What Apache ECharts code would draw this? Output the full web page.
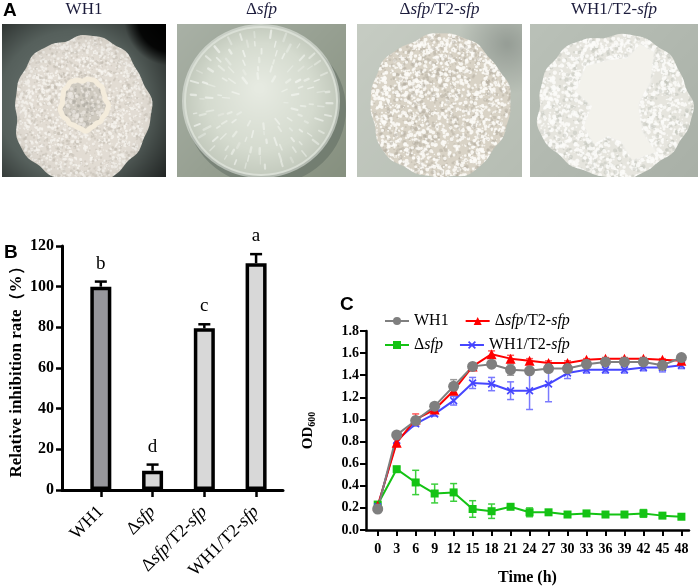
<!DOCTYPE html>
<html>
<head>
<meta charset="utf-8">
<script src="https://cdn.jsdelivr.net/npm/echarts@6/dist/echarts.min.js"></script>
<style>
  html, body { margin: 0; padding: 0; background: #fff; }
  #main { width: 699px; height: 587px; }
</style>
</head>
<body>
<div id="main"></div>
<script>
// ---- panel B data ----
const strains = ['WH1', 'Δsfp', 'Δsfp/T2-sfp', 'WH1/T2-sfp']
const inhibition = [100, 9.5, 79.5, 111.5]
const inhibitionErr = [2.5, 3, 2, 4.5]
const sigLetters = ['b', 'd', 'c', 'a']

// ---- panel C data ----
const hours = [0, 3, 6, 9, 12, 15, 18, 21, 24, 27, 30, 33, 36, 39, 42, 45, 48]
const odWH1 = [0.19, 0.86, 0.99, 1.12, 1.30, 1.48, 1.50, 1.45, 1.44, 1.46, 1.46, 1.50, 1.52, 1.52, 1.52, 1.49, 1.56]
const errWH1 = [0.01, 0.02, 0.03, 0.03, 0.06, 0.02, 0.03, 0.05, 0.03, 0.03, 0.03, 0.03, 0.02, 0.03, 0.03, 0.04, 0.02]
const odSfp = [0.23, 0.55, 0.43, 0.33, 0.34, 0.19, 0.17, 0.21, 0.16, 0.16, 0.14, 0.15, 0.14, 0.14, 0.15, 0.13, 0.12]
const errSfp = [0.02, 0.02, 0.11, 0.085, 0.08, 0.075, 0.065, 0.02, 0.04, 0.02, 0.02, 0.02, 0.02, 0.02, 0.035, 0.02, 0.02]
const odComp = [0.22, 0.79, 1.00, 1.09, 1.26, 1.48, 1.59, 1.55, 1.53, 1.51, 1.51, 1.54, 1.55, 1.55, 1.55, 1.54, 1.53]
const errComp = [0.01, 0.03, 0.05, 0.02, 0.03, 0.02, 0.03, 0.03, 0.02, 0.02, 0.02, 0.01, 0.01, 0.01, 0.01, 0.01, 0.01]
const odOver = [0.21, 0.81, 0.96, 1.05, 1.17, 1.33, 1.32, 1.26, 1.26, 1.32, 1.42, 1.45, 1.45, 1.45, 1.47, 1.47, 1.49]
const errOver = [0.01, 0.02, 0.02, 0.02, 0.04, 0.05, 0.06, 0.08, 0.17, 0.16, 0.05, 0.03, 0.03, 0.03, 0.03, 0.04, 0.03]

const SERIF = '"Liberation Serif", "DejaVu Serif", serif'
const SANS = '"Liberation Sans", Arial, sans-serif'

// rich-text versions of the strain names (italic gene names)
const richName = {
  'WH1': '{n|WH1}',
  'Δsfp': '{n|Δ}{i|sfp}',
  'Δsfp/T2-sfp': '{n|Δ}{i|sfp}{n|/T2-}{i|sfp}',
  'WH1/T2-sfp': '{n|WH1/T2-}{i|sfp}'
}
function richStyle(size, weight, color) {
  return {
    n: { fontFamily: SERIF, fontSize: size, fontWeight: weight, color: color },
    i: { fontFamily: SERIF, fontSize: size, fontWeight: weight, fontStyle: 'italic', color: color }
  }
}
function richGraphic(size, color) {
  return {
    n: { font: size + 'px ' + SERIF, fill: color },
    i: { font: 'italic ' + size + 'px ' + SERIF, fill: color }
  }
}

// ---- panel A: colony photos painted on canvases ----
function rnd(i) {
  const s = Math.sin(i * 12.9898 + 78.233) * 43758.5453
  return s - Math.floor(s)
}
function blob(ctx, cx, cy, rx, ry, wob, ph) {
  ctx.beginPath()
  for (let k = 0; k <= 120; k++) {
    const a = k / 120 * Math.PI * 2
    const r = 1 + wob * (0.5 * Math.sin(5 * a + ph) + 0.3 * Math.sin(9 * a + ph * 2) + 0.2 * Math.sin(17 * a + ph * 3))
    const x = cx + rx * r * Math.cos(a), y = cy + ry * r * Math.sin(a)
    k ? ctx.lineTo(x, y) : ctx.moveTo(x, y)
  }
  ctx.closePath()
}
function grains(ctx, cx, cy, rx, ry, n, seed, light, dark, rmax, share) {
  for (let i = 0; i < n; i++) {
    const a = rnd(seed + i) * Math.PI * 2
    const d = Math.sqrt(rnd(seed + i + 5000))
    const x = cx + Math.cos(a) * rx * d * 1.05, y = cy + Math.sin(a) * ry * d * 1.05
    const r = 0.5 + rnd(seed + i + 9000) * rmax
    ctx.fillStyle = rnd(seed + i + 13000) < share ? light : dark
    ctx.beginPath(); ctx.arc(x, y, r, 0, Math.PI * 2); ctx.fill()
  }
}
function makeCanvas(w, h) {
  const c = document.createElement('canvas')
  c.width = w * 2; c.height = h * 2
  const ctx = c.getContext('2d'); ctx.scale(2, 2)
  return [c, ctx]
}
function photoWH1() {
  const [c, ctx] = makeCanvas(164, 153)
  let g = ctx.createRadialGradient(70, 80, 10, 70, 80, 125)
  g.addColorStop(0, '#6f7a75'); g.addColorStop(0.55, '#56605c'); g.addColorStop(1, '#1a1d1c')
  ctx.fillStyle = g; ctx.fillRect(0, 0, 164, 153)
  g = ctx.createRadialGradient(170, -6, 2, 170, -6, 48)
  g.addColorStop(0, 'rgba(0,0,0,1)'); g.addColorStop(0.7, 'rgba(0,0,0,0.9)'); g.addColorStop(1, 'rgba(0,0,0,0)')
  ctx.fillStyle = g; ctx.fillRect(0, 0, 164, 153)
  ctx.save()
  blob(ctx, 80, 86, 68, 74, 0.05, 1.3)
  ctx.fillStyle = '#e2dcd3'; ctx.fill(); ctx.clip()
  grains(ctx, 80, 86, 68, 74, 2600, 11, 'rgba(248,245,240,0.8)', 'rgba(190,183,174,0.45)', 1.1, 0.6)
  g = ctx.createRadialGradient(80, 86, 45, 80, 86, 80)
  g.addColorStop(0, 'rgba(255,255,255,0)'); g.addColorStop(1, 'rgba(150,145,135,0.25)')
  ctx.fillStyle = g; ctx.fillRect(0, 0, 164, 153)
  ctx.restore()
  blob(ctx, 82, 80, 23, 25, 0.09, 0.4)
  ctx.fillStyle = '#cfcac0'; ctx.fill()
  ctx.save(); ctx.clip()
  grains(ctx, 82, 80, 21, 23, 220, 77, 'rgba(236,232,226,0.7)', 'rgba(170,165,158,0.5)', 1.4, 0.6)
  ctx.restore()
  blob(ctx, 82, 80, 23, 25, 0.09, 0.4)
  ctx.strokeStyle = '#f4ecdc'; ctx.lineWidth = 5; ctx.stroke()
  return c
}
function photoSfp() {
  const [c, ctx] = makeCanvas(169, 153)
  let g = ctx.createLinearGradient(0, 0, 169, 153)
  g.addColorStop(0, '#a9b1a6'); g.addColorStop(1, '#86907f')
  ctx.fillStyle = g; ctx.fillRect(0, 0, 169, 153)
  ctx.fillStyle = 'rgba(80,92,84,0.4)'
  ctx.beginPath(); ctx.ellipse(89, 85, 80, 76, 0, 0, Math.PI * 2); ctx.fill()
  g = ctx.createRadialGradient(82, 64, 5, 84, 77, 80)
  g.addColorStop(0, '#e6eae1'); g.addColorStop(0.65, '#d5dbcf'); g.addColorStop(1, '#c0c7ba')
  ctx.fillStyle = g
  ctx.beginPath(); ctx.ellipse(84, 77, 77, 75, 0, 0, Math.PI * 2); ctx.fill()
  ctx.strokeStyle = 'rgba(240,244,238,0.5)'; ctx.lineWidth = 4; ctx.stroke()
  ctx.lineCap = 'round'
  for (let ring = 0; ring < 6; ring++) {
    const f = 0.3 + ring * 0.11, n = 10 + ring * 4
    for (let k = 0; k < n; k++) {
      const a = (k + rnd(ring * 50 + k) * 0.6) / n * Math.PI * 2
      const len = 3 + rnd(ring * 70 + k) * 5
      const x = 84 + Math.cos(a) * 77 * f, y = 77 + Math.sin(a) * 75 * f
      ctx.strokeStyle = 'rgba(250,252,248,' + (0.25 + rnd(k + ring) * 0.35) + ')'
      ctx.lineWidth = 1.2 + rnd(k * 3 + ring) * 1.3
      ctx.beginPath(); ctx.moveTo(x, y)
      ctx.lineTo(x + Math.cos(a) * len, y + Math.sin(a) * len); ctx.stroke()
    }
  }
  return c
}
function photoComp() {
  const [c, ctx] = makeCanvas(165, 153)
  let g = ctx.createLinearGradient(0, 0, 165, 153)
  g.addColorStop(0, '#c6ccc3'); g.addColorStop(1, '#b6bdb3')
  ctx.fillStyle = g; ctx.fillRect(0, 0, 165, 153)
  g = ctx.createRadialGradient(150, 20, 2, 150, 20, 50)
  g.addColorStop(0, 'rgba(120,128,122,0.55)'); g.addColorStop(1, 'rgba(120,128,122,0)')
  ctx.fillStyle = g; ctx.fillRect(0, 0, 165, 153)
  ctx.save()
  blob(ctx, 83, 82, 70, 72, 0.04, 2.1)
  ctx.fillStyle = '#d9d3c6'; ctx.fill(); ctx.clip()
  grains(ctx, 83, 82, 70, 72, 2600, 301, 'rgba(253,252,248,0.85)', 'rgba(180,172,160,0.45)', 1.5, 0.65)
  ctx.restore()
  return c
}
function photoOver() {
  const [c, ctx] = makeCanvas(168, 153)
  let g = ctx.createLinearGradient(0, 0, 168, 153)
  g.addColorStop(0, '#bac1b8'); g.addColorStop(1, '#a9b0a7')
  ctx.fillStyle = g; ctx.fillRect(0, 0, 168, 153)
  ctx.save()
  blob(ctx, 84, 82, 77, 72, 0.05, 0.7)
  ctx.fillStyle = '#e6e5de'; ctx.fill(); ctx.clip()
  grains(ctx, 84, 82, 77, 72, 2400, 611, 'rgba(252,252,249,0.85)', 'rgba(190,192,185,0.45)', 1.7, 0.7)
  ctx.restore()
  const pts = [[56, 42], [80, 36], [98, 34], [110, 20], [124, 28], [120, 58], [108, 80], [112, 108],
    [126, 128], [102, 136], [92, 118], [78, 112], [64, 120], [54, 102], [62, 82], [46, 68]]
  ctx.shadowColor = 'rgba(255,255,255,0.9)'; ctx.shadowBlur = 8
  ctx.fillStyle = '#f3f2ec'
  ctx.beginPath(); pts.forEach((p, i) => i ? ctx.lineTo(p[0], p[1]) : ctx.moveTo(p[0], p[1]))
  ctx.closePath(); ctx.fill()
  return c
}

const photos = [
  { img: photoWH1(), x: 2, w: 164 },
  { img: photoSfp(), x: 177, w: 169 },
  { img: photoComp(), x: 357, w: 165 },
  { img: photoOver(), x: 530, w: 168 }
]
const graphics = []
photos.forEach((p, i) => {
  graphics.push({ type: 'image', x: p.x, y: 24, style: { image: p.img, width: p.w, height: 153 } })
  graphics.push({
    type: 'text', x: p.x + p.w / 2, y: 10,
    style: {
      text: richName[strains[i]], font: '17px ' + SERIF, fill: '#1c1c3c',
      rich: richGraphic(17, '#1c1c3c'), align: 'center', verticalAlign: 'middle'
    }
  })
})
;[['A', 3, 11], ['B', 4, 253], ['C', 340, 305]].forEach(t => {
  graphics.push({
    type: 'text', x: t[1], y: t[2],
    style: { text: t[0], font: 'bold 19px ' + SANS, fill: '#000', verticalAlign: 'middle' }
  })
})

// error bars for panel C
function errSeries(key, vals, errs, color) {
  return {
    type: 'custom', name: 'err ' + key, xAxisIndex: 1, yAxisIndex: 1, z: 2,
    data: hours.map((h, i) => [h, vals[i], errs[i]]),
    renderItem: (params, api) => {
      const x = api.value(0), y = api.value(1), e = api.value(2)
      const top = api.coord([x, y + e]), bot = api.coord([x, y - e])
      const s = { stroke: color, lineWidth: 1.5 }
      return {
        type: 'group', children: [
          { type: 'line', shape: { x1: top[0], y1: top[1], x2: bot[0], y2: bot[1] }, style: s },
          { type: 'line', shape: { x1: top[0] - 3.5, y1: top[1], x2: top[0] + 3.5, y2: top[1] }, style: s },
          { type: 'line', shape: { x1: bot[0] - 3.5, y1: bot[1], x2: bot[0] + 3.5, y2: bot[1] }, style: s }
        ]
      }
    }
  }
}
function lineSeries(name, vals, color, symbol, size) {
  return {
    type: 'line', name: name, xAxisIndex: 1, yAxisIndex: 1, z: 3,
    data: hours.map((h, i) => [h, vals[i]]),
    symbol: symbol, symbolSize: size, showAllSymbol: true,
    lineStyle: { color: color, width: 2 }, itemStyle: { color: color }
  }
}
const crossIcon = 'path://M0,1.5L1.5,0L5,3.5L8.5,0L10,1.5L6.5,5L10,8.5L8.5,10L5,6.5L1.5,10L0,8.5L3.5,5Z'

const tickLabel = { fontFamily: SERIF, fontWeight: 'bold', color: '#000' }
const legendBase = {
  orient: 'horizontal', itemWidth: 24, itemHeight: 10, itemGap: 16,
  formatter: name => richName[name],
  textStyle: { fontFamily: SERIF, fontSize: 16, color: '#000', rich: richStyle(16, 'normal', '#000') }
}
const myChart = echarts.init(document.getElementById('main'), null, { renderer: 'canvas' })
myChart.setOption({
  animation: false,
  backgroundColor: '#fff',
  graphic: graphics,
  legend: [
    Object.assign({ left: 379, top: 308, data: ['WH1', 'Δsfp/T2-sfp'] }, legendBase),
    Object.assign({ left: 379, top: 332, data: ['Δsfp', 'WH1/T2-sfp'] }, legendBase)
  ],
  grid: [
    { left: 62, top: 246, width: 221, height: 244 },
    { left: 366, top: 331, width: 323, height: 203 }
  ],
  xAxis: [
    {
      type: 'value', gridIndex: 0, min: -0.75, max: 3.52,
      splitLine: { show: false },
      axisLine: { onZero: false, lineStyle: { color: '#000', width: 3 } },
      axisTick: { customValues: [0, 1, 2, 3], length: 7, lineStyle: { color: '#000', width: 2.5 } },
      axisLabel: {
        customValues: [0, 1, 2, 3], rotate: 45, margin: 19,
        formatter: v => richName[strains[Math.round(v)]],
        rich: richStyle(18, 'normal', '#000')
      }
    },
    {
      type: 'value', gridIndex: 1, min: -1.85, max: 49.2,
      splitLine: { show: false },
      axisLine: { onZero: false, lineStyle: { color: '#000', width: 2.5 } },
      axisTick: { customValues: hours, length: 6, lineStyle: { color: '#000', width: 2 } },
      axisLabel: { customValues: hours, margin: 12, fontSize: 14, ...tickLabel },
      name: 'Time (h)', nameLocation: 'middle', nameGap: 40,
      nameTextStyle: { fontFamily: SERIF, fontWeight: 'bold', fontSize: 16, color: '#000' }
    }
  ],
  yAxis: [
    {
      type: 'value', gridIndex: 0, min: 0, max: 120, interval: 20,
      splitLine: { show: false },
      axisLine: { show: true, onZero: false, lineStyle: { color: '#000', width: 3 } },
      axisTick: { show: true, length: 6, lineStyle: { color: '#000', width: 2.5 } },
      axisLabel: { fontSize: 16, margin: 8, ...tickLabel },
      name: 'Relative inhibition rate（%）', nameLocation: 'middle', nameGap: 37,
      nameTextStyle: { fontFamily: SERIF, fontWeight: 'bold', fontSize: 17, color: '#000' }
    },
    {
      type: 'value', gridIndex: 1, min: 0, max: 1.8, interval: 0.2,
      splitLine: { show: false },
      axisLine: { show: true, onZero: false, lineStyle: { color: '#000', width: 2.5 } },
      axisTick: { show: true, length: 6, lineStyle: { color: '#000', width: 2 } },
      axisLabel: { fontSize: 14, margin: 7, formatter: v => v.toFixed(1), ...tickLabel },
      name: '{a|OD}{b|600}', nameLocation: 'middle', nameGap: 49,
      nameTextStyle: {
        rich: {
          a: { fontFamily: SERIF, fontWeight: 'bold', fontSize: 15, color: '#000' },
          b: { fontFamily: SERIF, fontWeight: 'bold', fontSize: 10, color: '#000', padding: [8, 0, 0, 0] }
        }
      }
    }
  ],
  series: [
    {
      type: 'bar', name: 'inhibition', xAxisIndex: 0, yAxisIndex: 0, barWidth: 21,
      data: inhibition.map((v, i) => ({
        value: [i, v],
        itemStyle: { color: i === 0 ? '#96969b' : '#d8d8d8', borderColor: '#000', borderWidth: 3.5 }
      }))
    },
    {
      type: 'custom', name: 'inhibition err', xAxisIndex: 0, yAxisIndex: 0, z: 3, clip: false,
      data: inhibition.map((v, i) => [i, v, inhibitionErr[i]]),
      renderItem: (params, api) => {
        const i = api.value(0), v = api.value(1), e = api.value(2)
        const base = api.coord([i, v]), top = api.coord([i, v + e])
        const s = { stroke: '#000', lineWidth: 2.5 }
        return {
          type: 'group', children: [
            { type: 'line', shape: { x1: base[0], y1: base[1], x2: top[0], y2: top[1] }, style: s },
            { type: 'line', shape: { x1: top[0] - 6, y1: top[1], x2: top[0] + 6, y2: top[1] }, style: s },
            {
              type: 'text', x: top[0], y: top[1] - 18,
              style: { text: sigLetters[params.dataIndex], font: '19px ' + SERIF, fill: '#000', align: 'center', verticalAlign: 'middle' }
            }
          ]
        }
      }
    },
    errSeries('Δsfp', odSfp, errSfp, '#3ccf3c'),
    errSeries('WH1/T2-sfp', odOver, errOver, '#7a7aff'),
    errSeries('Δsfp/T2-sfp', odComp, errComp, '#ff5a5a'),
    errSeries('WH1', odWH1, errWH1, '#9a9a9a'),
    lineSeries('Δsfp', odSfp, '#14c314', 'rect', 8),
    lineSeries('WH1/T2-sfp', odOver, '#4646ff', crossIcon, 8),
    lineSeries('Δsfp/T2-sfp', odComp, '#ff0000', 'triangle', 10),
    lineSeries('WH1', odWH1, '#7f7f7f', 'circle', 11)
  ]
})
</script>
</body>
</html>
